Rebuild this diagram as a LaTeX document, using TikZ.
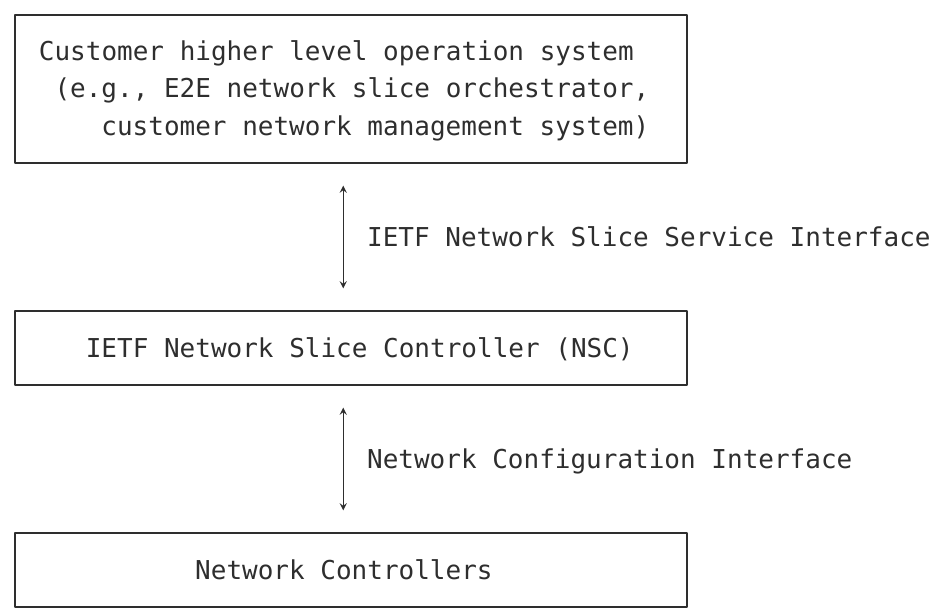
\documentclass[tikz,border=0pt]{standalone}
\usepackage{fontspec}
\setmonofont{DejaVu Sans Mono}
\definecolor{ink}{HTML}{2E2E2E}
\tikzset{
  box/.style={draw=ink, line width=0.6pt, rectangle, minimum width=336pt, inner sep=0pt},
  txt/.style={anchor=base west, inner sep=0pt, text=ink, font=\ttfamily\fontsize{13}{16}\selectfont},
}
\begin{document}
\begin{tikzpicture}[>=stealth, x=0.5pt, y=-0.5pt, line join=round, line cap=round]
  \useasboundingbox (0,0) rectangle (932,615);
  \def\ax{343.2} \def\gap{22pt}
  % boxes
  \node[box, minimum height=74pt] (cust) at (351,89) {};
  \node[box, minimum height=37pt] (nsc) at (351,348) {};
  \node[box, minimum height=37pt] (nc) at (351,570) {};
  % box texts
  \node[txt] (cust1) at (38.5,61) {Customer higher level operation system};
  \node[txt] (cust2) at (54.1,98) {(e.g., E2E network slice orchestrator,};
  \node[txt] (cust3) at (101.0,135) {customer network management system)};
  \node[txt] (nsct) at (85.4,357) {IETF Network Slice Controller (NSC)};
  \node[txt] (nct) at (194.8,579) {Network Controllers};
  % interfaces
  \coordinate (a1) at (\ax,0);
  \draw[<->, ink, line width=0.6pt, shorten <=11pt, shorten >=11pt] (cust.south -| a1) -- (nsc.north -| a1);
  \draw[<->, ink, line width=0.6pt, shorten <=11pt, shorten >=11pt] (nsc.south -| a1) -- (nc.north -| a1);
  \node[txt] (sif) at (366.7,246) {IETF Network Slice Service Interface};
  \node[txt] (cif) at (366.7,468) {Network Configuration Interface};
\end{tikzpicture}
\end{document}
